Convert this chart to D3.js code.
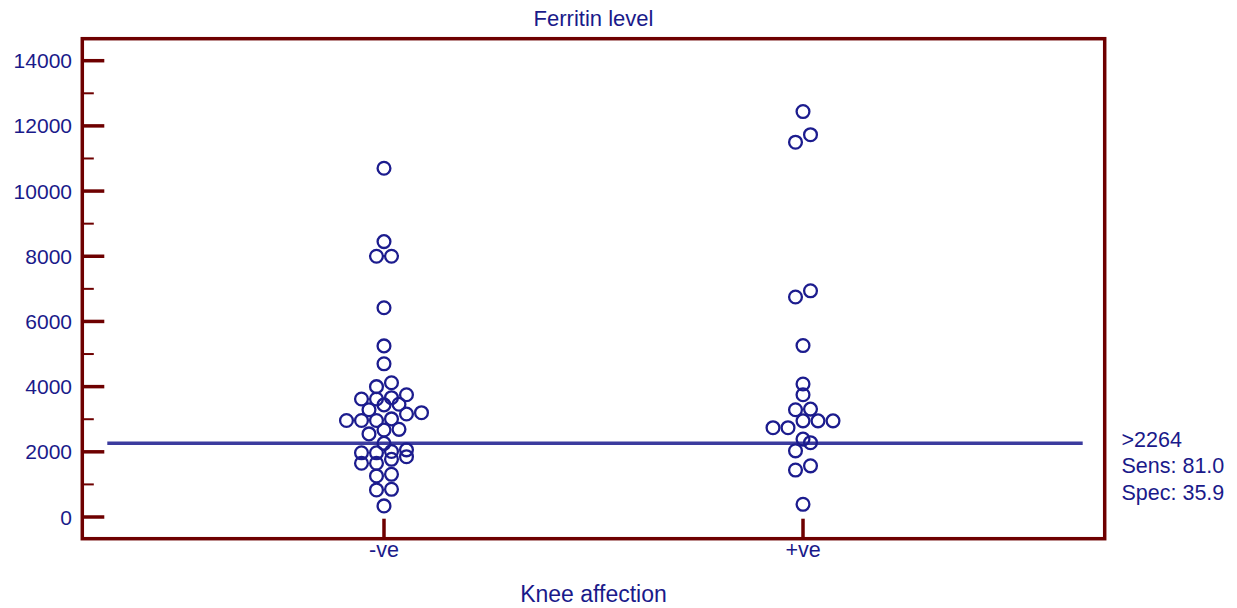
<!DOCTYPE html>
<meta charset="utf-8">
<head>
  <title>Ferritin level</title>
  <style>
  body { margin: 0; background: #fff; }
  text { font-family: "Liberation Sans", Arial, sans-serif; fill: #1a1a8a; }
  </style>
</head>
<html>
  <body>
    <svg width="1237" height="608"></svg>
  </body>
</html>
<script src="https://d3js.org/d3.v7.min.js"></script>
<script>
// data
var categories = ["-ve", "+ve"];
var negValues = [10700, 8450, 8000, 8000, 6420, 5250, 4700, 4120, 4000,
  3750, 3660, 3620, 3620, 3460, 3440, 3290, 3200, 3160, 3010, 2960, 2960, 2960,
  2690, 2670, 2550, 2260, 2060, 2010, 1970, 1970, 1850, 1770, 1650, 1650,
  1310, 1260, 850, 830, 340];
var posValues = [12440, 11730, 11500, 6940, 6750, 5260, 4080, 3750, 3310, 3290,
  2950, 2950, 2950, 2740, 2740, 2390, 2280, 2030, 1570, 1440, 390];
var yTicks = [0, 2000, 4000, 6000, 8000, 10000, 12000, 14000];
var yMinorTicks = [1000, 3000, 5000, 7000, 9000, 11000, 13000];
var cutoff = 2264;
var cutoffLabels = [">2264", "Sens: 81.0", "Spec: 35.9"];

var svg = d3.select("svg"),
    frame = {left: 82.3, right: 1104.7, top: 38.7, bottom: 538.7},
    dark = "#6e0000";

var x = d3.scalePoint()
    .domain(categories)
    .range([frame.left, frame.right])
    .padding(0.72);

var y = d3.scaleLinear()
    .domain([0, 14000])
    .range([517, 60.7]);

// group sorted values into rows, then centre each row on the category
function swarm(values, cat) {
  var sorted = values.slice().sort(d3.ascending),
      rows = [], row = null;
  sorted.forEach(function(v) {
    if (!row || v - row.start > 265) { row = {start: v, items: []}; rows.push(row); }
    row.items.push(v);
  });
  var pts = [];
  rows.forEach(function(r) {
    var n = r.items.length;
    r.items.forEach(function(v, i) {
      pts.push({cat: cat, value: v, off: (i - (n - 1) / 2) * 15});
    });
  });
  return pts;
}

var points = swarm(negValues, "-ve").concat(swarm(posValues, "+ve"));

// cutoff line
svg.append("line")
    .attr("x1", frame.left + 25)
    .attr("x2", frame.right - 22)
    .attr("y1", y(cutoff))
    .attr("y2", y(cutoff))
    .attr("stroke", "#3b3b9e")
    .attr("stroke-width", 3.5);

// points
svg.append("g").selectAll("circle")
    .data(points)
  .enter().append("circle")
    .attr("cx", function(d) { return x(d.cat) + d.off; })
    .attr("cy", function(d) { return y(d.value); })
    .attr("r", 6.4)
    .attr("fill", "none")
    .attr("stroke", "#1c1c8e")
    .attr("stroke-width", 2.3);

// frame
svg.append("rect")
    .attr("x", frame.left)
    .attr("y", frame.top)
    .attr("width", frame.right - frame.left)
    .attr("height", frame.bottom - frame.top)
    .attr("fill", "none")
    .attr("stroke", dark)
    .attr("stroke-width", 3.5);

// y ticks inside the frame
svg.append("g").selectAll("line")
    .data(yTicks)
  .enter().append("line")
    .attr("x1", frame.left)
    .attr("x2", frame.left + 22)
    .attr("y1", function(d) { return y(d); })
    .attr("y2", function(d) { return y(d); })
    .attr("stroke", dark)
    .attr("stroke-width", 3.5);

svg.append("g").selectAll("line")
    .data(yMinorTicks)
  .enter().append("line")
    .attr("x1", frame.left)
    .attr("x2", frame.left + 11.5)
    .attr("y1", function(d) { return y(d); })
    .attr("y2", function(d) { return y(d); })
    .attr("stroke", dark)
    .attr("stroke-width", 2);

svg.append("g").selectAll("text")
    .data(yTicks)
  .enter().append("text")
    .attr("x", 72)
    .attr("y", function(d) { return y(d); })
    .attr("dy", "0.36em")
    .attr("text-anchor", "end")
    .style("font-size", "21px")
    .text(function(d) { return d; });

// category ticks and labels
svg.append("g").selectAll("line")
    .data(categories)
  .enter().append("line")
    .attr("x1", function(d) { return x(d); })
    .attr("x2", function(d) { return x(d); })
    .attr("y1", frame.bottom)
    .attr("y2", frame.bottom - 20)
    .attr("stroke", dark)
    .attr("stroke-width", 3.5);

svg.append("g").selectAll("text")
    .data(categories)
  .enter().append("text")
    .attr("x", function(d) { return x(d); })
    .attr("y", 557)
    .attr("text-anchor", "middle")
    .style("font-size", "21.5px")
    .text(function(d) { return d; });

// titles
svg.append("text")
    .attr("x", (frame.left + frame.right) / 2)
    .attr("y", 26)
    .attr("text-anchor", "middle")
    .style("font-size", "22px")
    .text("Ferritin level");

svg.append("text")
    .attr("x", (frame.left + frame.right) / 2)
    .attr("y", 602)
    .attr("text-anchor", "middle")
    .style("font-size", "23px")
    .text("Knee affection");

// cutoff annotation
svg.append("g").selectAll("text")
    .data(cutoffLabels)
  .enter().append("text")
    .attr("x", 1121.5)
    .attr("y", function(d, i) { return 446.5 + i * 26.7; })
    .style("font-size", "21.5px")
    .text(function(d) { return d; });
</script>
